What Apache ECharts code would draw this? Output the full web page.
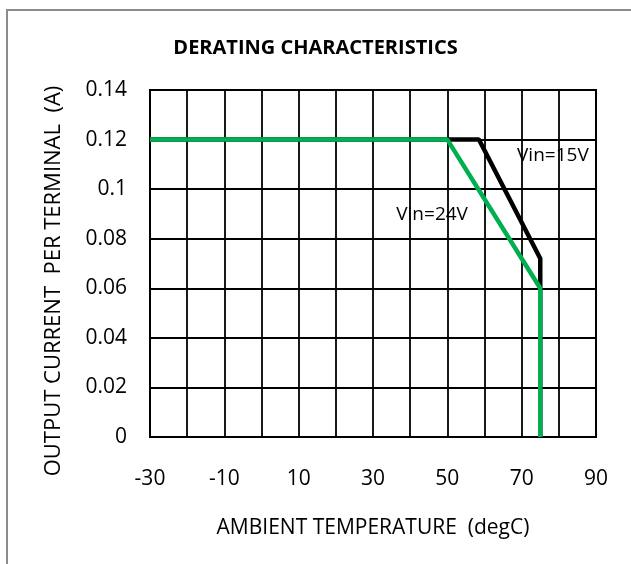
<!DOCTYPE html>
<html><head><meta charset="utf-8">
<script src="https://cdn.jsdelivr.net/npm/echarts@6/dist/echarts.min.js"></script>
<style>html,body{margin:0;padding:0;background:#fff}#c{width:631px;height:564px}</style>
</head><body><div id="c"></div>
<script>
const titleText = 'DERATING CHARACTERISTICS';
const xName = 'AMBIENT TEMPERATURE  (degC)';
const yName = 'OUTPUT CURRENT  PER TERMINAL  (A)';
const xLabels = [-30, -10, 10, 30, 50, 70, 90];
const vin15 = [[-30, 0.12], [58.5, 0.12], [75, 0.072], [75, 0]];
const vin24 = [[-30, 0.12], [50, 0.12], [75, 0.06], [75, 0]];
const vin15Label = {name: 'Vin=15V', coord: [78.4, 0.1134]};
const vin24Label = {name: 'Vin=24V', coord: [45.9, 0.0896]};

const FONT = 'Open Sans';
const chart = echarts.init(document.getElementById('c'), null, {renderer: 'canvas'});
const mk = (lbl) => ({
  symbol: 'circle', symbolSize: 0, silent: true,
  data: [{coord: lbl.coord, label: {show: true, position: 'inside', formatter: lbl.name,
    color: '#000', fontFamily: FONT, fontSize: 19}}]
});
chart.setOption({
  animation: false,
  backgroundColor: '#fff',
  title: {text: titleText, left: 'center', top: 33,
    textStyle: {fontFamily: FONT, fontWeight: 'bold', fontSize: 20, color: '#000'}},
  grid: {left: 150, right: 35, top: 90, bottom: 127, show: true, borderColor: '#000', borderWidth: 2},
  xAxis: {
    type: 'value', min: -30, max: 90, interval: 10,
    name: xName, nameLocation: 'middle', nameGap: 81,
    nameTextStyle: {fontFamily: FONT, fontSize: 21, color: '#000'},
    axisLine: {show: false}, axisTick: {show: false},
    splitLine: {show: true, lineStyle: {color: '#000', width: 1.8}},
    axisLabel: {margin: 32, fontFamily: FONT, fontSize: 21, color: '#000',
      formatter: v => xLabels.indexOf(Math.round(v)) >= 0 ? String(Math.round(v)) : ''}
  },
  yAxis: {
    type: 'value', min: 0, max: 0.14, interval: 0.02,
    axisLine: {show: false}, axisTick: {show: false},
    splitLine: {show: true, lineStyle: {color: '#000', width: 1.8}},
    axisLabel: {margin: 23, fontFamily: FONT, fontSize: 21, color: '#000',
      formatter: v => String(Math.round(v * 100) / 100)}
  },
  graphic: [
    {type: 'rect', shape: {x: 7, y: 10, width: 700, height: 700},
      style: {fill: 'none', stroke: '#8c8c8c', lineWidth: 2}, silent: true},
    {type: 'text', x: 54, y: 281, rotation: Math.PI / 2, silent: true,
      style: {text: yName, font: '22px "Open Sans"', fill: '#000', align: 'center', verticalAlign: 'middle'}}
  ],
  series: [
    {type: 'line', data: vin15, symbol: 'none', lineStyle: {color: '#000', width: 4.5}, markPoint: mk(vin15Label), z: 3},
    {type: 'line', data: vin24, symbol: 'none', lineStyle: {color: '#00b050', width: 4.5}, markPoint: mk(vin24Label), z: 4}
  ]
});
</script></body></html>
